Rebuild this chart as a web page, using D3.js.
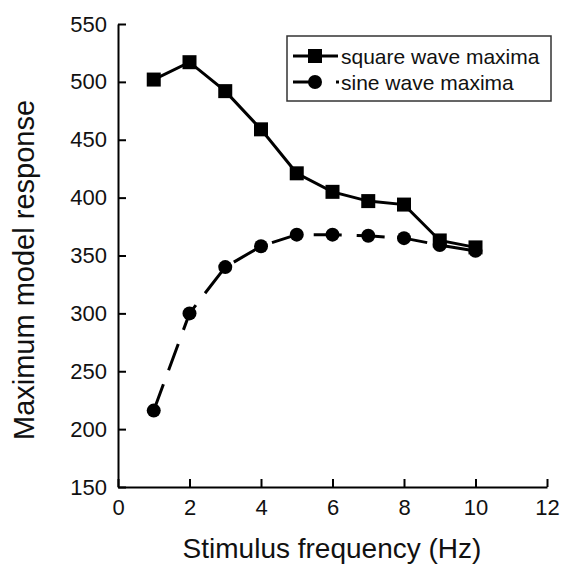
<!DOCTYPE html>
<meta charset="utf-8">
<style>
body { margin: 0; background: #fff; }
svg { font-family: "Liberation Sans", Arial, sans-serif; }
.axis path, .axis line { stroke: #000; stroke-width: 2; }
.axis text { font-size: 22px; fill: #111; }
</style>
<svg width="562" height="567"></svg>
<script src="https://cdn.jsdelivr.net/npm/d3@7/dist/d3.min.js"></script>
<script>
// stimulus frequencies (Hz)
var freqs = [1, 2, 3, 4, 5, 6, 7, 8, 9, 10];
var squareMax = [502, 517, 492, 459, 421, 405, 397, 394, 363, 357];
var sineMax = [216, 300, 340, 358, 368, 368, 367, 365, 359, 354];
var xTicks = [0, 2, 4, 6, 8, 10, 12];
var yTicks = [150, 200, 250, 300, 350, 400, 450, 500, 550];
var seriesNames = ["square wave maxima", "sine wave maxima"];

var svg = d3.select("svg");

var x = d3.scaleLinear().domain([0, 12]).range([118, 547]);
var y = d3.scaleLinear().domain([150, 550]).range([487, 24]);

svg.append("g")
    .attr("class", "axis")
    .attr("transform", "translate(0," + y(150) + ")")
    .call(d3.axisBottom(x).tickValues(xTicks).tickSizeInner(-8).tickSizeOuter(0).tickPadding(10))
    .call(function(g) { g.selectAll("text").attr("dy", "0.8em"); });

svg.append("g")
    .attr("class", "axis")
    .attr("transform", "translate(" + x(0) + ",0)")
    .call(d3.axisLeft(y).tickValues(yTicks).tickSizeInner(-8).tickSizeOuter(0).tickPadding(11));

// axis titles
svg.append("text")
    .attr("x", 332).attr("y", 558)
    .attr("text-anchor", "middle")
    .attr("font-size", 28).attr("fill", "#111")
    .text("Stimulus frequency (Hz)");

svg.append("text")
    .attr("transform", "translate(34,270) rotate(-90)")
    .attr("text-anchor", "middle")
    .attr("font-size", 29).attr("fill", "#111")
    .text("Maximum model response");

var line = d3.line()
    .x(function(d) { return x(d[0]); })
    .y(function(d) { return y(d[1]); });

var sqData = d3.zip(freqs, squareMax);
var siData = d3.zip(freqs, sineMax);

svg.append("path")
    .datum(siData)
    .attr("d", line)
    .attr("fill", "none").attr("stroke", "#000")
    .attr("stroke-width", 3)
    .attr("stroke-dasharray", "28,15");

svg.append("path")
    .datum(sqData)
    .attr("d", line)
    .attr("fill", "none").attr("stroke", "#000")
    .attr("stroke-width", 3);

svg.selectAll(".sine-pt")
    .data(siData)
    .enter().append("circle")
    .attr("class", "sine-pt")
    .attr("cx", function(d) { return x(d[0]); })
    .attr("cy", function(d) { return y(d[1]); })
    .attr("r", 7)
    .attr("fill", "#000");

svg.selectAll(".sq-pt")
    .data(sqData)
    .enter().append("rect")
    .attr("class", "sq-pt")
    .attr("x", function(d) { return x(d[0]) - 7; })
    .attr("y", function(d) { return y(d[1]) - 7; })
    .attr("width", 14).attr("height", 14)
    .attr("fill", "#000");

// legend
var leg = svg.append("g");
leg.append("rect")
    .attr("x", 287).attr("y", 36)
    .attr("width", 264).attr("height", 65)
    .attr("fill", "#fff").attr("stroke", "#333").attr("stroke-width", 1.5);

leg.append("line")
    .attr("x1", 293).attr("x2", 338).attr("y1", 56).attr("y2", 56)
    .attr("stroke", "#000").attr("stroke-width", 3);
leg.append("rect")
    .attr("x", 308).attr("y", 49).attr("width", 14).attr("height", 14)
    .attr("fill", "#000");

leg.append("line")
    .attr("x1", 293).attr("x2", 339).attr("y1", 82).attr("y2", 82)
    .attr("stroke", "#000").attr("stroke-width", 3)
    .attr("stroke-dasharray", "28,15");
leg.append("circle")
    .attr("cx", 315).attr("cy", 82).attr("r", 7)
    .attr("fill", "#000");

leg.selectAll(".leg-text")
    .data(seriesNames)
    .enter().append("text")
    .attr("class", "leg-text")
    .attr("x", 341)
    .attr("y", function(d, i) { return 64 + i * 26; })
    .attr("font-size", 21).attr("fill", "#111")
    .text(function(d) { return d; });
</script>
